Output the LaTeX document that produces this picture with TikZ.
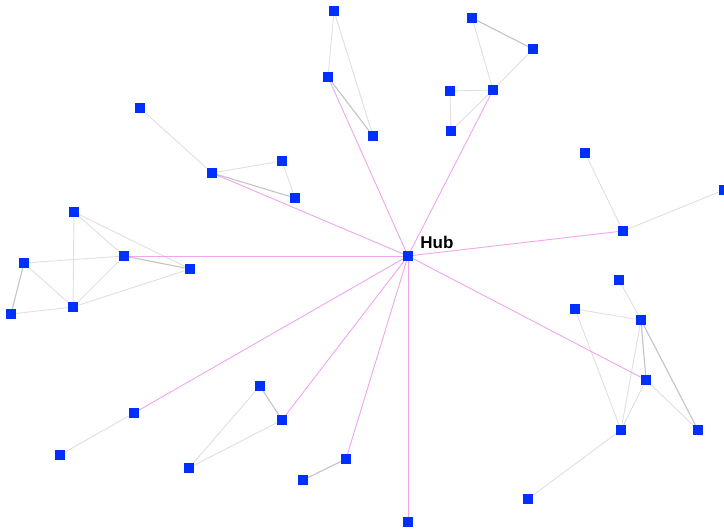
\documentclass[tikz,border=0pt]{standalone}
\usepackage{fontspec}
\setsansfont{Liberation Sans}
\usepackage{tikz}
\usetikzlibrary{positioning,backgrounds}
\definecolor{nodeblue}{RGB}{0,48,255}
\definecolor{hubpink}{RGB}{240,165,240}
\definecolor{lightedge}{RGB}{224,224,224}
\definecolor{darkedge}{RGB}{196,196,196}
\tikzset{
  vtx/.style={rectangle,fill=nodeblue,minimum size=10pt,inner sep=0pt},
  edge/.style={draw=lightedge,line width=0.9pt},
  edgedk/.style={draw=darkedge,line width=1.1pt},
  spoke/.style={draw=hubpink,line width=0.9pt},
  hublbl/.style={font=\sffamily\bfseries\fontsize{17}{20}\selectfont,inner sep=0pt},
}

\begin{document}
\begin{tikzpicture}[x=1pt,y=-1pt]
  \useasboundingbox (0,0) rectangle (724,530);

  % hub
  \node[vtx] (hub) at (408,256) {};
  \node[hublbl,above right=2pt and 7pt of hub] (hubtxt) {Hub};

  % top middle
  \node[vtx] (a1) at (334,11) {};
  \node[vtx] (a2) at (328,77) {};
  \node[vtx] (a3) at (373,136) {};
  % top right
  \node[vtx] (b1) at (472,18) {};
  \node[vtx] (b2) at (533,49) {};
  \node[vtx] (b3) at (493,90) {};
  \node[vtx] (b4) at (450,91) {};
  \node[vtx] (b5) at (451,131) {};
  % upper left
  \node[vtx] (c1) at (140,108) {};
  \node[vtx] (c2) at (212,173) {};
  \node[vtx] (c3) at (282,161) {};
  \node[vtx] (c4) at (295,198) {};
  % left
  \node[vtx] (d1) at (74,212) {};
  \node[vtx] (d2) at (124,256) {};
  \node[vtx] (d3) at (190,269) {};
  \node[vtx] (d4) at (24,263) {};
  \node[vtx] (d5) at (73,307) {};
  \node[vtx] (d6) at (11,314) {};
  % right
  \node[vtx] (e1) at (585,153) {};
  \node[vtx] (e2) at (623,231) {};
  \node[vtx] (e3) at (724,190) {};
  % lower right
  \node[vtx] (f1) at (619,280) {};
  \node[vtx] (f2) at (575,309) {};
  \node[vtx] (f3) at (641,320) {};
  \node[vtx] (f4) at (646,380) {};
  \node[vtx] (f5) at (621,430) {};
  \node[vtx] (f6) at (698,430) {};
  \node[vtx] (f7) at (528,499) {};
  % lower left
  \node[vtx] (g1) at (134,413) {};
  \node[vtx] (g2) at (60,455) {};
  \node[vtx] (h1) at (260,386) {};
  \node[vtx] (h2) at (282,420) {};
  \node[vtx] (h3) at (189,468) {};
  % bottom
  \node[vtx] (i1) at (346,459) {};
  \node[vtx] (i2) at (303,480) {};
  \node[vtx] (j1) at (408,522) {};

  \begin{scope}[on background layer]
    \fill[white] (0,0) rectangle (724,530);
    \foreach \a/\b in {a1/a2,a1/a3,b1/b3,b2/b3,b3/b4,b4/b5,b5/b3,
        c1/c2,c2/c3,c3/c4,d1/d5,d1/d2,d1/d3,d4/d2,d4/d5,d6/d5,d5/d2,d5/d3,
        e1/e2,e2/e3,f1/f3,f2/f3,f2/f5,f3/f5,f4/f5,f4/f6,f5/f7,
        g1/g2,h1/h3,h2/h3}
      \draw[edge] (\a) -- (\b);
    \foreach \a/\b in {a2/a3,b1/b2,c2/c4,d4/d6,d2/d3,f3/f4,f3/f6,h1/h2,i1/i2}
      \draw[edgedk] (\a) -- (\b);
    % spokes from hub
    \foreach \n in {a2,b3,c2,d2,e2,f4,g1,h2,i1,j1}
      \draw[spoke] (hub) -- (\n);
  \end{scope}
\end{tikzpicture}
\end{document}
